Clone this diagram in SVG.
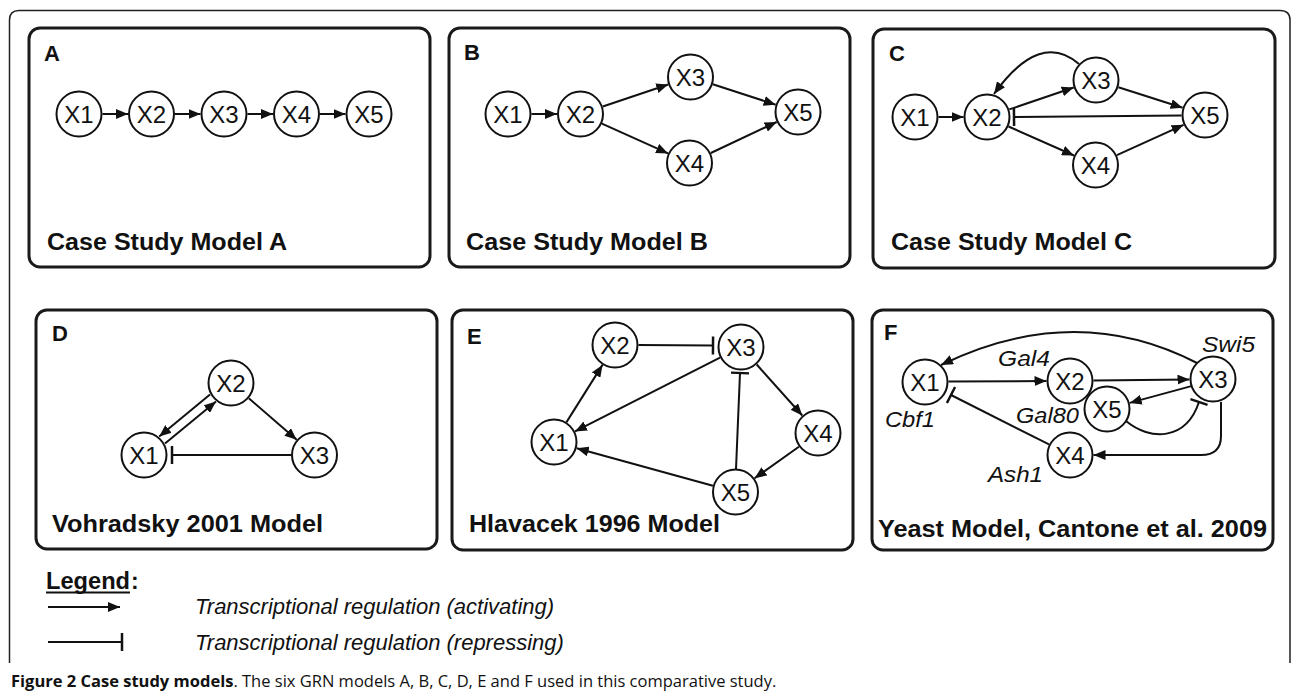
<svg xmlns="http://www.w3.org/2000/svg" width="1292" height="695" viewBox="0 0 1292 695">
<style>
.frame{fill:none;stroke:#222;stroke-width:1.5}
.panel{fill:#fff;stroke:#1a1a1a;stroke-width:3}
.node circle{fill:#fff;stroke:#111;stroke-width:2}
.node text{font-family:"Liberation Sans",Arial,sans-serif;font-size:24px;text-anchor:middle;fill:#111}
.pl{font-family:"Liberation Sans",Arial,sans-serif;font-weight:bold;font-size:22px;fill:#111}
.tt{font-family:"Liberation Sans",Arial,sans-serif;font-weight:bold;font-size:23px;fill:#111}
.it{font-family:"Liberation Sans",Arial,sans-serif;font-style:italic;font-size:22px;fill:#111}
.act{fill:none;stroke:#111;stroke-width:2;marker-end:url(#arr)}
.rep{fill:none;stroke:#111;stroke-width:2;marker-end:url(#bar)}
.cap{font-family:"Open Sans","Liberation Sans",sans-serif;font-size:16.5px;fill:#111}
</style>
<defs>
<marker id="arr" viewBox="0 0 12 10" refX="12" refY="5" markerWidth="12" markerHeight="10" markerUnits="userSpaceOnUse" orient="auto"><path d="M0,0 L12,5 L0,10 z" fill="#111"/></marker>
<marker id="bar" viewBox="0 0 4 20" refX="2" refY="10" markerWidth="4" markerHeight="20" markerUnits="userSpaceOnUse" orient="auto"><path d="M2,1 V19" stroke="#111" stroke-width="2.5"/></marker>
</defs>
<rect width="1292" height="695" fill="#fff"/>
<path class="frame" d="M9.5,663 V20 Q9.5,10.5 19,10.5 H1280 Q1290,10.5 1290,20 V663"/>

<g id="panels">
<rect class="panel" x="29" y="28" width="401" height="239" rx="11"/>
<rect class="panel" x="449" y="28" width="401" height="239" rx="11"/>
<rect class="panel" x="873" y="29" width="402" height="239" rx="11"/>
<rect class="panel" x="36" y="310" width="401" height="239" rx="11"/>
<rect class="panel" x="452" y="310" width="401" height="240" rx="11"/>
<rect class="panel" x="872" y="310" width="401" height="240" rx="11"/>
</g>

<g id="labels">
<text class="pl" x="44" y="61">A</text>
<text class="pl" x="464" y="60">B</text>
<text class="pl" x="889" y="61">C</text>
<text class="pl" x="52" y="341">D</text>
<text class="pl" x="467" y="344">E</text>
<text class="pl" x="884" y="340">F</text>
<text class="tt" x="47" y="250" textLength="240" lengthAdjust="spacingAndGlyphs">Case Study Model A</text>
<text class="tt" x="466" y="250" textLength="242" lengthAdjust="spacingAndGlyphs">Case Study Model B</text>
<text class="tt" x="891" y="250" textLength="241" lengthAdjust="spacingAndGlyphs">Case Study Model C</text>
<text class="tt" x="52" y="532" textLength="271" lengthAdjust="spacingAndGlyphs">Vohradsky 2001 Model</text>
<text class="tt" x="469" y="532" textLength="251" lengthAdjust="spacingAndGlyphs">Hlavacek 1996 Model</text>
<text class="tt" x="878" y="537" textLength="389" lengthAdjust="spacingAndGlyphs">Yeast Model, Cantone et al. 2009</text>
<text class="it" x="998" y="366" textLength="52" lengthAdjust="spacingAndGlyphs">Gal4</text>
<text class="it" x="1202" y="352" textLength="53" lengthAdjust="spacingAndGlyphs">Swi5</text>
<text class="it" x="885" y="427" textLength="50" lengthAdjust="spacingAndGlyphs">Cbf1</text>
<text class="it" x="1016" y="423" textLength="63" lengthAdjust="spacingAndGlyphs">Gal80</text>
<text class="it" x="988" y="482" textLength="55" lengthAdjust="spacingAndGlyphs">Ash1</text>
</g>

<g id="connectors">
<!-- A -->
<line class="act" x1="102.5" y1="114" x2="128" y2="114"/>
<line class="act" x1="175" y1="114" x2="200.5" y2="114"/>
<line class="act" x1="247.5" y1="114" x2="273" y2="114"/>
<line class="act" x1="320" y1="114" x2="345.5" y2="114"/>
<!-- B -->
<line class="act" x1="531.5" y1="114" x2="557" y2="114"/>
<line class="act" x1="602.8" y1="106.5" x2="668.2" y2="84.5"/>
<line class="act" x1="601.9" y1="123.6" x2="668.1" y2="153.4"/>
<line class="act" x1="712.8" y1="84.3" x2="775.7" y2="104.7"/>
<line class="act" x1="710.8" y1="153" x2="776.7" y2="122"/>
<!-- C -->
<line class="act" x1="938.5" y1="117" x2="963.5" y2="117"/>
<line class="act" x1="1009.3" y1="109.4" x2="1073.7" y2="87.5"/>
<line class="act" x1="1008.5" y1="126.5" x2="1074" y2="155.5"/>
<line class="act" x1="1118.4" y1="87.2" x2="1182.6" y2="107.8"/>
<line class="act" x1="1116.9" y1="155.2" x2="1183.6" y2="124.8"/>
<line class="rep" x1="1181.5" y1="115.5" x2="1014" y2="117"/>
<path class="act" d="M1079,64 Q1040,30 994,94"/>
<!-- D -->
<line class="act" x1="210" y1="394.5" x2="159.2" y2="436.5"/>
<line class="act" x1="165" y1="443.5" x2="216" y2="401.5"/>
<line class="act" x1="248.8" y1="398.3" x2="296.7" y2="439.7"/>
<line class="rep" x1="291" y1="455" x2="172" y2="455"/>
<!-- E -->
<line class="act" x1="566.5" y1="422.1" x2="602.5" y2="364.9"/>
<line class="rep" x1="638.5" y1="345" x2="713" y2="345.5"/>
<line class="act" x1="720" y1="357.6" x2="575" y2="431.4"/>
<line class="act" x1="756.7" y1="364.5" x2="802.3" y2="415.5"/>
<line class="act" x1="798.9" y1="446.7" x2="754.6" y2="478.3"/>
<line class="act" x1="712.9" y1="485.7" x2="576.7" y2="448.3"/>
<line class="rep" x1="736" y1="469" x2="740" y2="373"/>
<!-- F -->
<path class="act" d="M1197,363 Q1075,300 941,365"/>
<line class="act" x1="948.5" y1="381.5" x2="1046.5" y2="381"/>
<line class="act" x1="1093.5" y1="380.5" x2="1189.5" y2="379.5"/>
<line class="act" x1="1191.3" y1="386.1" x2="1129.7" y2="402.9"/>
<path class="rep" d="M1126,421 C1150,441 1186,441 1199,402"/>
<path class="act" d="M1221,402 V436 Q1221,455 1201,455 H1093.5"/>
<line class="rep" x1="1049" y1="444.4" x2="951" y2="395"/>
</g>

<g id="A-X1" class="node"><circle cx="79" cy="114" r="22.5"/><text x="79" y="122.5">X1</text></g>
<g id="A-X2" class="node"><circle cx="151.5" cy="114" r="22.5"/><text x="151.5" y="122.5">X2</text></g>
<g id="A-X3" class="node"><circle cx="224" cy="114" r="22.5"/><text x="224" y="122.5">X3</text></g>
<g id="A-X4" class="node"><circle cx="296.5" cy="114" r="22.5"/><text x="296.5" y="122.5">X4</text></g>
<g id="A-X5" class="node"><circle cx="369" cy="114" r="22.5"/><text x="369" y="122.5">X5</text></g>

<g id="B-X1" class="node"><circle cx="508" cy="114" r="22.5"/><text x="508" y="122.5">X1</text></g>
<g id="B-X2" class="node"><circle cx="580.5" cy="114" r="22.5"/><text x="580.5" y="122.5">X2</text></g>
<g id="B-X3" class="node"><circle cx="690.5" cy="77" r="22.5"/><text x="690.5" y="85.5">X3</text></g>
<g id="B-X4" class="node"><circle cx="689.5" cy="163" r="22.5"/><text x="689.5" y="171.5">X4</text></g>
<g id="B-X5" class="node"><circle cx="798" cy="112" r="22.5"/><text x="798" y="120.5">X5</text></g>

<g id="C-X1" class="node"><circle cx="915" cy="117" r="22.5"/><text x="915" y="125.5">X1</text></g>
<g id="C-X2" class="node"><circle cx="987" cy="117" r="22.5"/><text x="987" y="125.5">X2</text></g>
<g id="C-X3" class="node"><circle cx="1096" cy="80" r="22.5"/><text x="1096" y="88.5">X3</text></g>
<g id="C-X4" class="node"><circle cx="1095.5" cy="165" r="22.5"/><text x="1095.5" y="173.5">X4</text></g>
<g id="C-X5" class="node"><circle cx="1205" cy="115" r="22.5"/><text x="1205" y="123.5">X5</text></g>

<g id="D-X1" class="node"><circle cx="144" cy="455" r="22.5"/><text x="144" y="463.5">X1</text></g>
<g id="D-X2" class="node"><circle cx="231" cy="383" r="22.5"/><text x="231" y="391.5">X2</text></g>
<g id="D-X3" class="node"><circle cx="314.5" cy="455" r="22.5"/><text x="314.5" y="463.5">X3</text></g>

<g id="E-X1" class="node"><circle cx="554" cy="442" r="22.5"/><text x="554" y="450.5">X1</text></g>
<g id="E-X2" class="node"><circle cx="615" cy="345" r="22.5"/><text x="615" y="353.5">X2</text></g>
<g id="E-X3" class="node"><circle cx="741" cy="347" r="22.5"/><text x="741" y="355.5">X3</text></g>
<g id="E-X4" class="node"><circle cx="818" cy="433" r="22.5"/><text x="818" y="441.5">X4</text></g>
<g id="E-X5" class="node"><circle cx="735.5" cy="492" r="22.5"/><text x="735.5" y="500.5">X5</text></g>

<g id="F-X1" class="node"><circle cx="925" cy="382" r="22.5"/><text x="925" y="390.5">X1</text></g>
<g id="F-X2" class="node"><circle cx="1070" cy="381" r="22.5"/><text x="1070" y="389.5">X2</text></g>
<g id="F-X3" class="node"><circle cx="1213" cy="379" r="22.5"/><text x="1213" y="387.5">X3</text></g>
<g id="F-X5" class="node"><circle cx="1107" cy="409" r="22.5"/><text x="1107" y="417.5">X5</text></g>
<g id="F-X4" class="node"><circle cx="1070" cy="455" r="22.5"/><text x="1070" y="463.5">X4</text></g>

<g id="legend">
<text class="tt" x="46" y="589" font-size="21" textLength="84" lengthAdjust="spacingAndGlyphs">Legend</text>
<line x1="46" y1="592.5" x2="130" y2="592.5" stroke="#111" stroke-width="1.8"/>
<text class="tt" x="131" y="589" font-size="21">:</text>
<line class="act" x1="48" y1="607" x2="120" y2="607"/>
<line class="rep" x1="48" y1="642" x2="122" y2="642"/>
<text class="it" x="195" y="614">Transcriptional regulation (activating)</text>
<text class="it" x="195" y="650">Transcriptional regulation (repressing)</text>
</g>

<g id="caption">
<text class="cap" x="11" y="687"><tspan font-weight="bold">Figure 2 Case study models</tspan>. The six GRN models A, B, C, D, E and F used in this comparative study.</text>
</g>
</svg>
